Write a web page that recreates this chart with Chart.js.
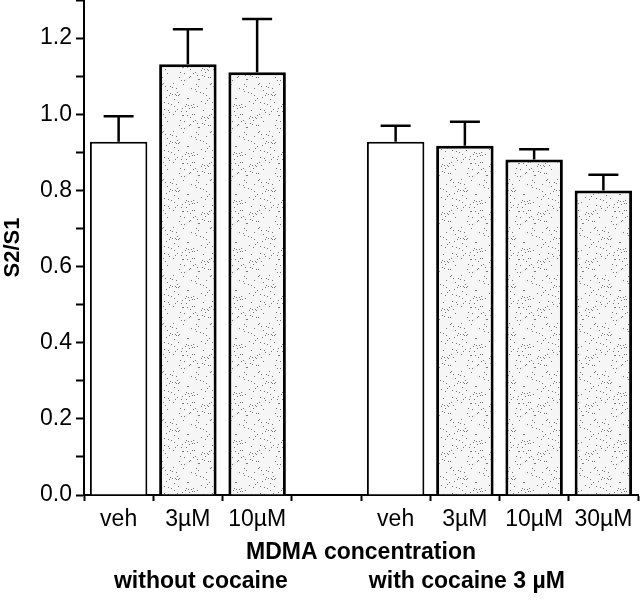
<!DOCTYPE html>
<html lang="en">
  <head>
    <meta charset="UTF-8" />
    <title>S2/S1 MDMA</title>
    <style>
      body {
        margin: 0;
        background: #fff;
      }
      .plot {
        width: 640px;
        height: 603px;
      }
    </style>
  </head>
  <body>
    <div class="plot">
      <canvas id="mychart"></canvas>
    </div>

    <script src="https://cdn.jsdelivr.net/npm/chart.js@4/dist/chart.umd.min.js"></script>
    <script>
      // data
      const labels = ["veh", "3µM", "10µM", "", "veh", "3µM", "10µM", "30µM"];
      const means = [0.928, 1.131, 1.11, null, 0.928, 0.917, 0.881, 0.8];
      const sem = [0.067, 0.092, 0.14, null, 0.042, 0.063, 0.027, 0.041];
      const groupLabels = ["without cocaine", "with cocaine 3 µM"];
      const groupAt = [1, 5]; // category each group label sits under

      const FONT = "'Liberation Sans', Arial, Helvetica, sans-serif";

      // grey stipple fill like the printed figure
      function stipple() {
        const c = document.createElement("canvas");
        c.width = 48;
        c.height = 48;
        const g = c.getContext("2d");
        g.fillStyle = "#f6f6f6";
        g.fillRect(0, 0, 48, 48);
        g.fillStyle = "#777";
        let s = 7;
        for (let i = 0; i < 90; i++) {
          s = (s * 73 + 19) % 2304;
          g.fillRect(s % 48, Math.floor(s / 48), 1, 1);
        }
        return g.createPattern(c, "repeat");
      }
      const dots = stipple();
      const fills = ["#fff", dots, dots, "#fff", "#fff", dots, dots, dots];
      const borders = [2, 3, 3, 0, 2, 3, 3, 3];

      // error bars (upper only) with a cap
      const errorBars = {
        id: "errorBars",
        afterDatasetsDraw(chart) {
          const ctx = chart.ctx;
          const y = chart.scales.y;
          const meta = chart.getDatasetMeta(0);
          ctx.save();
          ctx.strokeStyle = "#000";
          ctx.lineWidth = 2.5;
          meta.data.forEach((bar, i) => {
            if (means[i] == null) return;
            const y0 = y.getPixelForValue(means[i]);
            const y1 = y.getPixelForValue(means[i] + sem[i]);
            ctx.beginPath();
            ctx.moveTo(bar.x, y0);
            ctx.lineTo(bar.x, y1);
            ctx.moveTo(bar.x - 15, y1);
            ctx.lineTo(bar.x + 15, y1);
            ctx.stroke();
          });
          ctx.restore();
        },
        afterDraw(chart) {
          const ctx = chart.ctx;
          const x = chart.scales.x;
          ctx.save();
          ctx.fillStyle = "#000";
          ctx.font = "bold 23px " + FONT;
          ctx.textAlign = "center";
          ctx.textBaseline = "middle";
          ctx.fillText(groupLabels[0], x.getPixelForValue(groupAt[0]) + 13, 582);
          ctx.fillText(groupLabels[1], x.getPixelForValue(groupAt[1]) + 2, 582);
          ctx.restore();
        },
      };

      new Chart(document.getElementById("mychart"), {
        type: "bar",
        data: {
          labels: labels,
          datasets: [
            {
              data: means,
              backgroundColor: fills,
              borderColor: "#000",
              borderWidth: borders,
              borderSkipped: "bottom",
              barPercentage: 0.83,
              categoryPercentage: 1,
            },
          ],
        },
        options: {
          responsive: true,
          maintainAspectRatio: false,
          animation: false,
          layout: { padding: { top: 0, right: 2, left: 0, bottom: 0 } },
          plugins: {
            legend: { display: false },
            tooltip: { enabled: false },
          },
          scales: {
            x: {
              offset: true,
              grid: {
                offset: true,
                drawOnChartArea: false,
                drawTicks: true,
                tickLength: 6,
                tickWidth: 2,
                tickColor: "#000",
              },
              border: { color: "#000", width: 2 },
              ticks: {
                color: "#000",
                padding: 5,
                maxRotation: 0,
                autoSkip: false,
                font: { family: FONT, size: 23 },
              },
              title: {
                display: true,
                text: "MDMA concentration",
                color: "#000",
                font: { family: FONT, size: 23, weight: "bold" },
                padding: { top: 0, bottom: 37 },
              },
              afterFit(scale) {
                scale.height = 108;
                scale.paddingLeft = 0;
                scale.paddingRight = 0;
              },
            },
            y: {
              min: 0,
              max: 1.3,
              grid: {
                drawOnChartArea: false,
                drawTicks: true,
                tickLength: 8,
                tickWidth: 2,
                tickColor: "#000",
              },
              border: { color: "#000", width: 2 },
              ticks: {
                stepSize: 0.1,
                color: "#000",
                padding: 4,
                font: { family: FONT, size: 23 },
                callback: (v) => (Math.round(v * 10) % 2 === 0 ? v.toFixed(1) : ""),
              },
              title: {
                display: true,
                text: "S2/S1",
                color: "#000",
                font: { family: FONT, size: 22, weight: "bold" },
                padding: 0,
              },
              afterFit(scale) {
                scale.width = 84;
                scale.paddingTop = 0;
                scale.paddingBottom = 0;
              },
            },
          },
        },
        plugins: [errorBars],
      });
    </script>
  </body>
</html>
